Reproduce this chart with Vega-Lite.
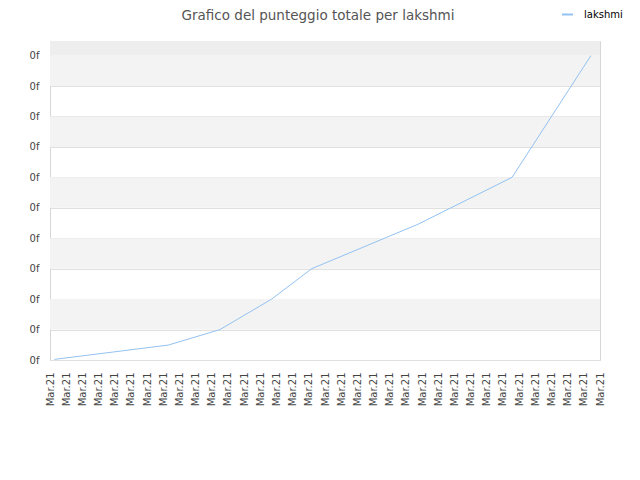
{
  "$schema": "https://vega.github.io/schema/vega-lite/v6.json",
  "autosize": {"type": "none"},
  "padding": {"left": 50, "top": 41, "right": 40, "bottom": 120},
  "width": 550,
  "height": 319,
  "background": "white",
  "title": {
    "text": "Grafico del punteggio totale per lakshmi",
    "font": "DejaVu Sans",
    "fontSize": 13.5,
    "fontWeight": "normal",
    "color": "#555555",
    "anchor": "middle",
    "dx": -7,
    "offset": -14
  },
  "config": {
    "view": {"stroke": "#d6d6d6", "strokeWidth": 1},
    "font": "DejaVu Sans"
  },
  "datasets": {
    "bands": [
      {"lo": 1, "hi": 2},
      {"lo": 3, "hi": 4},
      {"lo": 5, "hi": 6},
      {"lo": 7, "hi": 8},
      {"lo": 9, "hi": 10}
    ],
    "topband": [
      {"lo": 10, "hi": 10.48}
    ],
    "scores": [
      {"t": 0.27, "score": 0.02, "player": "lakshmi"},
      {"t": 7.31, "score": 0.49, "player": "lakshmi"},
      {"t": 10.51, "score": 1.0, "player": "lakshmi"},
      {"t": 13.7, "score": 2.0, "player": "lakshmi"},
      {"t": 16.18, "score": 3.0, "player": "lakshmi"},
      {"t": 22.75, "score": 4.46, "player": "lakshmi"},
      {"t": 28.56, "score": 6.0, "player": "lakshmi"},
      {"t": 33.44, "score": 10.0, "player": "lakshmi"}
    ]
  },
  "layer": [
    {
      "data": {"name": "bands"},
      "mark": {"type": "rect", "color": "#f3f3f3"},
      "encoding": {
        "y": {
          "field": "lo",
          "type": "quantitative",
          "scale": {"domain": [0, 10.48], "nice": false, "zero": false},
          "axis": {
            "title": null,
            "values": [0,1,2,3,4,5,6,7,8,9,10],
            "labelExpr": "'0f'",
            "labelFontSize": 10,
            "labelColor": "#444444",
            "labelPadding": 11,
            "labelOverlap": false,
            "labelFlush": false,
            "ticks": false,
            "domain": false,
            "grid": true,
            "gridColor": "#e0e0e0",
            "gridWidth": 1
          }
        },
        "y2": {"field": "hi"}
      }
    },
    {
      "data": {"name": "topband"},
      "mark": {"type": "rect", "color": "#eeeeee"},
      "encoding": {
        "y": {
          "field": "lo",
          "type": "quantitative",
          "axis": {
            "title": null,
            "values": [0,1,2,3,4,5,6,7,8,9,10],
            "labelExpr": "'0f'",
            "labelFontSize": 10,
            "labelColor": "#444444",
            "labelPadding": 11,
            "labelOverlap": false,
            "labelFlush": false,
            "ticks": false,
            "domain": false,
            "grid": true,
            "gridColor": "#e0e0e0",
            "gridWidth": 1
          }
        },
        "y2": {"field": "hi"}
      }
    },
    {
      "data": {"name": "scores"},
      "mark": {"type": "line", "strokeWidth": 1, "interpolate": "linear"},
      "encoding": {
        "x": {
          "field": "t",
          "type": "quantitative",
          "scale": {"domain": [0, 34], "nice": false, "zero": false},
          "axis": {
            "title": null,
            "values": [0,1,2,3,4,5,6,7,8,9,10,11,12,13,14,15,16,17,18,19,20,21,22,23,24,25,26,27,28,29,30,31,32,33,34],
            "labelExpr": "'Mar.21'",
            "labelAngle": -90,
            "labelFontSize": 10,
            "labelColor": "#444444",
            "labelPadding": 12,
            "labelOverlap": false,
            "labelFlush": false,
            "ticks": false,
            "domain": false,
            "grid": false
          }
        },
        "y": {
          "field": "score",
          "type": "quantitative",
          "scale": {"domain": [0, 10.48], "nice": false, "zero": false},
          "axis": {
            "title": null,
            "values": [0,1,2,3,4,5,6,7,8,9,10],
            "labelExpr": "'0f'",
            "labelFontSize": 10,
            "labelColor": "#444444",
            "labelPadding": 11,
            "labelOverlap": false,
            "labelFlush": false,
            "ticks": false,
            "domain": false,
            "grid": true,
            "gridColor": "#e0e0e0",
            "gridWidth": 1
          }
        },
        "color": {
          "field": "player",
          "type": "nominal",
          "scale": {"range": ["#93c2f2"]},
          "legend": {
            "title": null,
            "orient": "none",
            "legendX": 511,
            "legendY": -33,
            "symbolType": "stroke",
            "symbolSize": 120,
            "symbolStrokeWidth": 2,
            "labelFontSize": 10,
            "labelColor": "#000000",
            "labelOffset": 10
          }
        }
      }
    }
  ]
}
